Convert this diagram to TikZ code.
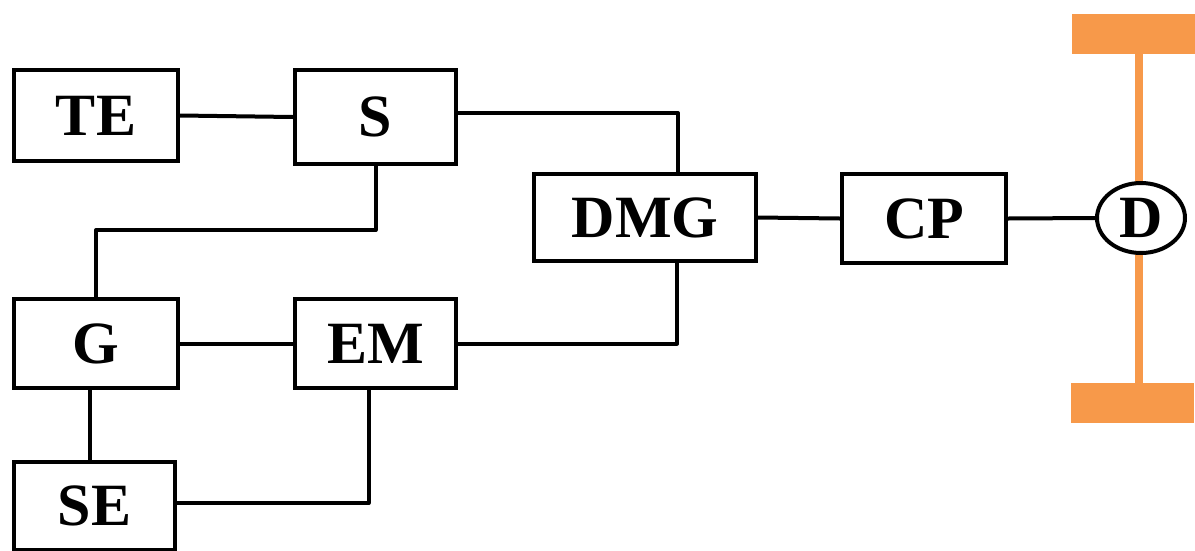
\documentclass[tikz,border=0pt]{standalone}
\usepackage{fontspec}
\setmainfont{Liberation Serif}
\usetikzlibrary{shapes.geometric}
\definecolor{axle}{HTML}{F7994A}
\begin{document}
\begin{tikzpicture}[x=1pt,y=-1pt,
  blk/.style={draw=black,line width=4pt,rectangle,inner sep=0pt,fill=white,
    font=\fontsize{60}{70}\selectfont\bfseries},
  conn/.style={draw=black,line width=4pt,line join=round},
  wheel/.style={fill=axle,draw=none,rectangle,inner sep=0pt,minimum width=123pt,minimum height=40pt},
  shaft/.style={draw=axle,line width=8pt}]
\useasboundingbox (0,0) rectangle (1195,550);
% blocks
\node[blk,minimum width=164pt,minimum height=91pt] (TE) at (96,115.5) {TE};
\node[blk,minimum width=161pt,minimum height=94pt] (S) at (375.5,117) {S};
\node[blk,minimum width=222pt,minimum height=87pt] (DMG) at (645,217.5) {DMG};
\node[blk,minimum width=164pt,minimum height=89pt] (CP) at (924,218.5) {CP};
\node[blk,minimum width=164pt,minimum height=89pt] (G) at (96,343.5) {G};
\node[blk,minimum width=161pt,minimum height=89pt] (EM) at (375.5,343.5) {EM};
\node[blk,minimum width=161pt,minimum height=88pt] (SE) at (94.5,506) {SE};
% axle
\node[wheel] (WT) at (1133.5,34) {};
\node[wheel] (WB) at (1132,403) {};
\node[draw=none,inner sep=0pt,minimum size=0pt] (Dc) at (1141,218) {};
\draw[shaft] (WT.south -| 1139,0) -- (WB.north -| 1139,0);
\node[blk,ellipse,minimum width=88pt,minimum height=70pt] (D) at (1141,218) {D};
% connectors
\draw[conn] (TE.east) -- (S.west);
\draw[conn] (S.east |- 0,113) -| ([xshift=33pt]DMG.north);
\draw[conn] (S.south) -- (S.south |- 0,230) -| (G.north);
\draw[conn] (G.east) -- (EM.west);
\draw[conn] (EM.east) -| ([xshift=32pt]DMG.south);
\draw[conn] ([xshift=-6pt]G.south) -- ([xshift=-6pt]G.south |- SE.north);
\draw[conn] (SE.east |- 0,503) -| ([xshift=-7pt]EM.south);
\draw[conn] (DMG.east) -- (CP.west);
\draw[conn] (CP.east) -- (D.west);
\end{tikzpicture}
\end{document}
